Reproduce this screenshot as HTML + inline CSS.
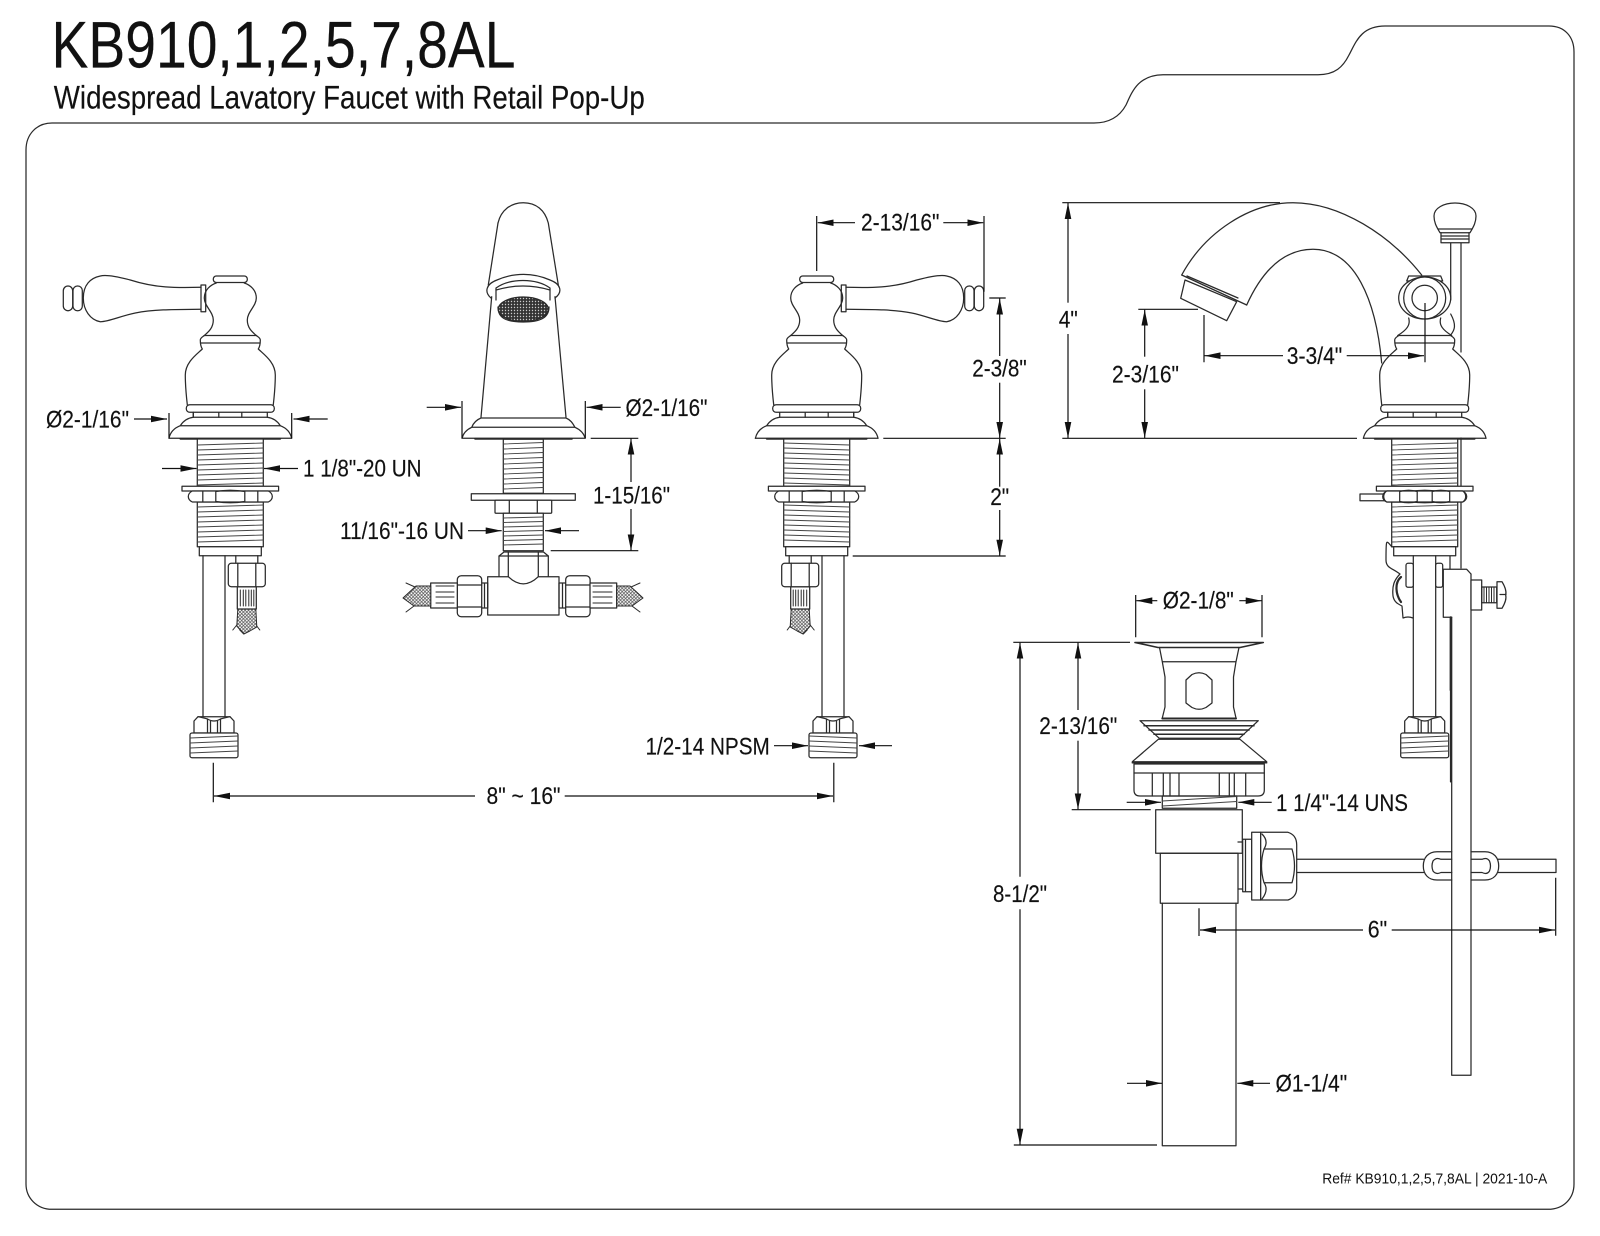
<!DOCTYPE html>
<html><head><meta charset="utf-8"><title>KB910,1,2,5,7,8AL</title>
<style>
html,body{margin:0;padding:0;background:#fff}
svg{display:block}
text{font-family:"Liberation Sans",sans-serif;fill:#111;font-size:24px;stroke:#111;stroke-width:.15}
.s{fill:none;stroke:#2a2a2a;stroke-width:1.25;stroke-linejoin:round;stroke-linecap:round}
.w{fill:#fff}
.d{fill:none;stroke:#111;stroke-width:1.2}
.t{stroke-width:.9;stroke:#444}
</style></head><body>
<svg xmlns="http://www.w3.org/2000/svg" width="1600" height="1236" viewBox="0 0 1600 1236">
<defs>
<marker id="a" markerUnits="userSpaceOnUse" markerWidth="17" markerHeight="8" refX="16" refY="3.300" orient="auto"><path d="M0 0L16 3.300L0 6.600Z" fill="#111"/></marker>
<pattern id="b" width="3.4" height="3.4" patternUnits="userSpaceOnUse"><rect width="3.4" height="3.4" fill="#fff"/><path d="M0 0L3.4 3.4M3.4 0L0 3.4" stroke="#555" stroke-width=".75"/></pattern>
<pattern id="m" width="3" height="3" patternUnits="userSpaceOnUse"><rect width="3" height="3" fill="#333"/><circle cx="1.5" cy="1.5" r=".7" fill="#ccc"/></pattern>
<g id="h">
<path d="M26 335.5C28 337 30 338 30 340C30 343 30 346 28 349C33 354 45 362 45 375C45 387 44 396 43 404.7"/>
<path d="M37 412.3V417.3M11.5 412.3V417.3M37 417.3C42 418 47 421 50 425.7C56 428 60 432 61.3 438.3"/>
</g>
<g id="vb" class="s">
<path class="w" stroke="none" d="M-26 335H26L45 375V404H-45V375Z"/>
<use href="#h"/><use href="#h" transform="scale(-1,1)"/>
<path d="M-26 335.5H26M-29.5 343H29.5"/>
<rect class="w" x="-44" y="404.7" width="88" height="7.6" rx="3.5"/>
<path d="M-37 412.3V417.3M-37 417.3H37M-50 425.7H50M-61.3 438.3H61.3"/>
<path d="M-50 438.8H50" stroke-width="1.8"/>
<rect class="w" x="-33" y="439" width="66" height="47.3"/>
<path class="t" d="M-33 445l66-2M-33 450l66-2M-33 455l66-2M-33 460l66-2M-33 465l66-2M-33 470l66-2M-33 475l66-2M-33 480l66-2M-33 485l66-2"/>
<rect class="w" x="-48.3" y="486.3" width="96.6" height="4.7"/>
<rect class="w" x="-33" y="502" width="66" height="44.7"/>
<path class="t" d="M-33 507l66-2M-33 512l66-2M-33 517l66-2M-33 522l66-2M-33 527l66-2M-33 532l66-2M-33 537l66-2M-33 542l66-2"/>
<path class="w" d="M-38 491H38Q42 493 42 496.500Q42 500 38 502H-38Q-42 500 -42 496.500Q-42 493 -38 491Z"/>
<path d="M-27.500 491.500V501.500M-14.500 491.500V501.500M14.500 491.500V501.500M27.500 491.500V501.500M-14.500 491.500Q0 489 14.500 491.500M-14.500 501.500Q0 504 14.500 501.500"/>
<rect class="w" x="-31" y="546.700" width="62" height="9"/>
</g>
<g id="ft" class="s">
<path class="w" d="M-20 733V721L-16 716.700H16L20 721V733Z"/>
<path d="M-6.500 719V732.500M-3.500 721V732.500M3.500 721V732.500M6.500 719V732.500M-16 716.700Q-10 718 -6.500 719Q-3 721 0 721Q3 721 6.500 719Q10 718 16 716.700"/>
<rect class="w" x="-24" y="733" width="48" height="24.700" rx="2"/>
<path class="t" d="M-24 738l48-2M-24 743l48-2M-24 748l48-2M-24 753l48-2"/>
</g>
<g id="v">
<use href="#vb"/>
<g class="s">
<path d="M-14 283C-20 285-26 290-26 298C-26 306-17 312-17 320C-17 328-22 332-26 335.500"/>
<path d="M14 283C20 285 26 290 26 298C26 306 17 312 17 320C17 328 22 332 26 335.500"/>
<rect class="w" x="-17" y="276" width="34" height="6.500" rx="3"/>
<path d="M-29.300 287.300C-55 288-75 288-100 280C-115 276-125 274.500-130 276C-140 278-147 285-147 298C-147 310-140 320-130 321.700C-122 322-110 316-95 313C-75 309-50 309.500-29.300 309.300"/>
<rect x="-29.300" y="285" width="4.700" height="26.700"/>
<rect x="-167" y="286" width="9.400" height="24.700" rx="4.700"/>
<rect x="-157.300" y="286" width="9.300" height="24.700" rx="4.500"/>
<path d="M-27.300 555.700V716.700M-5.300 555.700V716.700"/>
<use href="#ft" x="-16.300"/>
<g transform="translate(16.500,0)">
<path d="M-11 555.700V563.300M11 555.700V563.300"/>
<path fill="url(#b)" stroke-width="1" d="M-9 609H9L10 627L3 631L-3 634L-10 626Z"/>
<path d="M-14 630L-10 625M-3 634L-7 630M13 630L10 626" stroke-width="1"/>
<rect class="w" x="-9.500" y="586.700" width="19" height="22.300"/>
<path d="M-6.500 590V606M-3.500 590V606M-1 590V606M2 590V606M4.500 590V606M7 590V606" stroke-width="1"/>
<rect class="w" x="-18.500" y="563.300" width="37" height="23.400" rx="3"/>
<path d="M-9 563.300V586.700M9 563.300V586.700"/>
</g>
</g>
</g>
</defs>
<rect width="1600" height="1236" fill="#fff"/>

<path class="s" stroke-width="1.3" d="M26 150C26 134 37 123 52 123H1094C1110 123 1120 116 1126 105C1132 92 1138 75 1163 74.700H1318C1335 74.700 1343 67 1349 55C1356 42 1361 26 1385 26H1549C1565 26 1574 37 1574 52V1184C1574 1199 1563 1209.300 1548 1209.300H52C37 1209.300 26 1198 26 1184Z"/>

<text x="51.500" y="67.700" style="font-size:66px" textLength="464" lengthAdjust="spacingAndGlyphs">KB910,1,2,5,7,8AL</text>
<text x="53.800" y="108.300" style="font-size:32px" textLength="591" lengthAdjust="spacingAndGlyphs">Widespread Lavatory Faucet with Retail Pop-Up</text>

<use href="#v" transform="translate(230.300,0)"/>
<use href="#v" transform="translate(816.700,0) scale(-1,1)"/>

<!-- centre faucet -->
<g class="s">
<path d="M498 223C501 210 511 202.700 523.300 202.700C536 202.700 545 210 548.300 223L558.300 285"/>
<path d="M498 223L488.300 285"/>
<path d="M491.700 296.700L481 417.300M555 296.700L566 417.300"/>
<path d="M491 298C484 292 486 284 497 280C514 272.500 533 272.500 550 280C561 284 563 292 555 298"/>
<path d="M496 300V288C510 278 536 278 550 288V300"/>
<path d="M496 290Q523 282 550 290"/>
<path d="M498 307C498 318 506 322 523.300 322C540 322 549 318 549 307"/>
<ellipse cx="523.300" cy="309.300" rx="25" ry="12.300" fill="url(#m)"/>
<path d="M481 418H566M481 418C476 420 473 424 471.700 427.300H575C573 424 571 420 566 418M471.700 427.300C466 430 463 434 462 438.300H585.300C584 434 581 430 575 427.300"/>
<path d="M475 438.800H572" stroke-width="1.800"/>
<rect class="w" x="503.300" y="439.300" width="40" height="54"/>
<path class="t" d="M503.300 444l40-1.500M503.300 449l40-1.500M503.300 454l40-1.500M503.300 459l40-1.500M503.300 464l40-1.500M503.300 469l40-1.500M503.300 474l40-1.500M503.300 479l40-1.500M503.300 484l40-1.500M503.300 489l40-1.500"/>
<rect class="w" x="471.300" y="493.700" width="104" height="6.600"/>
<rect class="w" x="495" y="500.300" width="56.700" height="13" rx="1"/>
<path d="M509.300 500.300V513.300M537.300 500.300V513.300"/>
<rect class="w" x="503.300" y="513.300" width="40" height="37.400"/>
<path class="t" d="M503.300 518l40-1M503.300 522.500l40-1M503.300 527l40-1M503.300 531.500l40-1M503.300 536l40-1M503.300 540.500l40-1M503.300 545l40-1"/>
<path class="w" d="M499 576.700V556L504 552H543.500L548.300 556V576.700"/>
<path d="M508.300 552V576.700M538.300 552V576.700M499 556H548.300"/>
<path class="w" d="M487.700 576.700H508.300Q523.300 591 538.300 576.700H559V615H487.700Z"/>
<path d="M481.700 583H487.700V608H481.700M565.700 583H559V608H565.700M484.500 583V608M562.500 583V608"/>
<rect class="w" x="457.300" y="575.700" width="24.400" height="41" rx="4"/>
<path d="M457.300 585H481.700M457.300 607H481.700"/>
<rect class="w" x="565.700" y="575.700" width="24.400" height="41" rx="4"/>
<path d="M565.700 585H590M565.700 607H590"/>
<rect class="w" x="430.700" y="583" width="26.600" height="25"/>
<path d="M436 586H454M436 592H454M436 597H454M436 603H454" stroke-width="1.100"/>
<rect class="w" x="590" y="583" width="26.700" height="25"/>
<path d="M593 586H612M593 592H612M593 597H612M593 603H612" stroke-width="1.100"/>
<path fill="url(#b)" stroke-width="1" d="M430.700 586V606H414L403 598L416 586Z"/>
<path stroke-width="1" d="M406 583L415 587M406 612L414 606"/>
<path fill="url(#b)" stroke-width="1" d="M616.700 586V606H632L643 598L630 586Z"/>
<path stroke-width="1" d="M640 583L631 587M640 612L632 606"/>
</g>

<!-- right side valve with spout -->
<g class="s">
<path d="M1181.700 275C1205 232 1250 202.700 1293 202.700C1340 202.700 1390 235 1421.700 275"/>
<path d="M1246.700 305C1258 280 1278 249.300 1313 249.300C1355 249.300 1376 300 1381.700 363"/>
<path d="M1181.700 275L1246.700 305"/>
<path class="w" d="M1185 280L1236.700 301.700L1226.700 320.700L1180.700 298.300Z"/>
<path d="M1187 276L1238 298"/>
<path d="M1450.700 241.700V300M1461 241.700V352"/>
<path class="w" d="M1440 232.700C1436 226 1434 222 1434 216C1434 208 1444 203 1455 203C1466 203 1476 208 1476 216C1476 222 1474 226 1470 232.700Z"/>
<path d="M1438 229H1472M1441 232.700V236M1469 232.700V236"/>
<rect class="w" x="1441" y="236" width="28" height="6.700"/>
<path d="M1441 239H1469"/>
<path d="M1461 438V486M1461 502V568M1450 556V569"/>
</g>
<g transform="translate(1424.700,0)">
<rect class="s w" x="-64.700" y="494" width="25" height="6.700"/>
<use href="#vb"/>
<g class="s">
<path class="w" d="M-38 491H38Q41 493 41 496.500Q41 500 38 502H-38Q-41 500 -41 496.500Q-41 493 -38 491Z"/>
<path d="M-7.500 491.500V501.500M7.500 491.500V501.500M-25 491.500V501.500M25 491.500V501.500M-25 491.500Q-16 489 -7.500 491.500M-25 501.500Q-16 504 -7.500 501.500M25 491.500Q16 489 7.500 491.500M25 501.500Q16 504 7.500 501.500"/>
<path d="M-16 318C-14 325-18 330-27 335.500M16 318C14 325 18 330 27 335.500"/>
<path d="M26 314C32 325 30 330 26 335"/>
<path class="w" d="M-16 276H16L18 281H-18Z"/>
<ellipse class="w" cx="0" cy="298" rx="26" ry="21"/>
<circle class="w" cx="0" cy="298" r="21"/>
<circle cx="0" cy="298" r="12.700"/>
</g>
</g>
<g class="s">
<!-- lower linkage -->
<path d="M1392 547C1386 540 1386 538 1386 560C1386 568 1392 568 1400 574C1394 580 1392 586 1393 596C1394 602 1398 604 1402 606L1403 618Q1408 616 1413 618"/>
<path d="M1401 577C1394 583 1396 595 1401 602" stroke-width="2.200"/>
<path d="M1413.300 555.700V716.700M1435.700 555.700V716.700"/>
<rect class="w" x="1406" y="563.300" width="7.300" height="24" rx="2"/>
<rect class="w" x="1435.700" y="563.300" width="7" height="24" rx="2"/>
<path d="M1443.300 569.300V617.300H1451.700M1443.300 569.300H1466.700L1471 574"/>
<path d="M1450.700 617.300V690" stroke-width="2.200"/>
<path d="M1450.700 690V781.700" stroke-width="1.600"/>
<path d="M1451.700 617.300V1075.300H1471V574"/>
<rect class="w" x="1471" y="580" width="10.700" height="30"/>
<rect x="1481.700" y="587" width="15" height="15.700"/>
<path d="M1484 587V602.700M1486.500 587V602.700M1489 587V602.700M1491.500 587V602.700M1494 587V602.700" stroke-width="1"/>
<path class="w" d="M1497 581.700H1502Q1507 590 1505.700 595Q1507 600 1502 608.300H1497Z"/>
<path d="M1500 594.500H1506"/>
</g>
<use href="#ft" transform="translate(1424.700,0)"/>

<!-- lever rod and pop-up -->
<g class="s">
<path d="M1296.700 859.300H1423.500M1296.700 872.500H1423.500M1498 859.300H1556V872.500H1498"/>
<path d="M1451.700 851.700H1437C1428 851.700 1423.300 858 1423.300 866C1423.300 874 1428 880 1437 880H1451.700"/>
<path d="M1471 851.700H1485C1494 851.700 1498.700 858 1498.700 866C1498.700 874 1494 880 1485 880H1471"/>
<path d="M1451.700 859.300H1441Q1436 857 1433 861Q1431 866 1433 871Q1436 875 1441 872.500H1451.700"/>
<path d="M1471 859.300H1482Q1487 857 1489.500 861Q1491.500 866 1489.500 871Q1487 875 1482 872.500H1471"/>

<path d="M1135 642.500H1263.300L1240 647.500H1158Z" stroke-width="1.600"/>
<path d="M1159.500 647.500L1162.300 661.700L1165 677V707L1162.300 718M1239 647.500L1236 661.700L1233.500 677V707L1236 718M1162.300 661.700H1236"/>
<path d="M1186 680L1192 674.500Q1199 671 1206 674.500L1212 680V703L1206 707.500Q1199 711 1192 707.500L1186 703Z"/>
<path d="M1162.300 718.500H1236" stroke-width="2"/>
<path d="M1140 720.700H1258.300L1239.300 738.300H1159.300Z"/>
<path d="M1144 725.700H1254M1149 730H1249M1154 734.300H1244" stroke-width="1.500"/>
<path d="M1158.300 739.300H1240L1266.700 761.700H1132.300Z"/>
<path d="M1132.300 762.700H1266.700" stroke-width="1.500"/>
<path d="M1134 764H1264.300V790Q1264.300 796 1258 796H1140Q1134 796 1134 790Z"/>
<path d="M1134 773H1264.300M1152.300 773V796M1245.700 773V796M1163.300 773V796M1170 773V796M1179 773V796M1219.300 773V796M1229.300 773V796M1234.300 773V796"/>
<rect x="1162.300" y="796" width="74.400" height="12.300"/>
<path class="t" d="M1162.300 801L1236.700 796.500M1162.300 806L1236.700 801.500"/>
<rect x="1155.700" y="809.700" width="86.600" height="43.600"/>
<rect x="1160.300" y="853.300" width="77.700" height="50"/>
<path d="M1162.300 903.300V1145.700H1236V903.300"/>
<path d="M1242.700 839.300H1251.700V891.700H1242.700ZM1245.500 839.300V891.700M1238 842H1242.700M1238 889H1242.700"/>
<rect class="w" x="1251.700" y="832.300" width="9" height="67.700"/>
<path class="w" d="M1260.700 832.300H1288Q1296.700 835 1296.700 845V888Q1296.700 897 1288 900H1260.700Z"/>
<path d="M1264 849H1292M1264 882.700H1292M1262 834Q1269 841 1264 849Q1259 866 1264 882.700Q1269 890 1262 899M1292 849Q1297 866 1292 882.700"/>
</g>

<!-- dimensions -->
<g class="d">
<path d="M134 419H167" marker-end="url(#a)"/><path d="M169 413V438M291.700 413V438"/><path d="M327.700 419H293.500" marker-end="url(#a)"/>
<path d="M162 468.500H196.500" marker-end="url(#a)"/><path d="M298 468.500H264" marker-end="url(#a)"/>
<path d="M468 530.700H501.700" marker-end="url(#a)"/><path d="M579 530.700H545" marker-end="url(#a)"/>
<path d="M426.700 407.300H461" marker-end="url(#a)"/><path d="M462 401V438M585.300 401V438"/><path d="M620.700 407.300H586.500" marker-end="url(#a)"/>
<path d="M590.700 438.300H638.300M550.700 550.700H638.300"/>
<path d="M631 482H631V438.500" marker-end="url(#a)"/><path d="M631 509V550.500" marker-end="url(#a)"/>
<path d="M816.700 216V271M984 216V291.700"/><path d="M855 222.700H817.700" marker-end="url(#a)"/><path d="M943.300 222.700H983.300" marker-end="url(#a)"/>
<path d="M989.300 298H1005.700M883.300 438.300H1005.700M852.700 556H1005.700"/>
<path d="M999.700 356V298.500" marker-end="url(#a)"/><path d="M999.700 382.700V438" marker-end="url(#a)"/>
<path d="M999.700 486.700V438.700" marker-end="url(#a)"/><path d="M999.700 510V555.700" marker-end="url(#a)"/>
<path d="M1062.300 202.700H1280M1062.300 438.300H1357"/>
<path d="M1068 302.700V203" marker-end="url(#a)"/><path d="M1068 334V438" marker-end="url(#a)"/>
<path d="M1138.300 309.300H1198"/>
<path d="M1144.700 356.700V309.700" marker-end="url(#a)"/><path d="M1144.700 389.300V438" marker-end="url(#a)"/>
<path d="M1204 315V362.300M1425 303V362.300"/>
<path d="M1283 355.700H1204.500" marker-end="url(#a)"/><path d="M1346.700 355.700H1424" marker-end="url(#a)"/>
<path d="M1135.700 595V637.300M1262 595V637.300"/>
<path d="M1157.300 600.700H1136.300" marker-end="url(#a)"/><path d="M1239.300 600.700H1261.700" marker-end="url(#a)"/>
<path d="M1013.300 642.300H1130M1071.700 809.700H1150.700M1013.800 1145H1157"/>
<path d="M1078 710V642.700" marker-end="url(#a)"/><path d="M1078 740.700V809.300" marker-end="url(#a)"/>
<path d="M1020 876.700V642.700" marker-end="url(#a)"/><path d="M1020 909.300V1144.700" marker-end="url(#a)"/>
<path d="M1126.700 802.300H1161" marker-end="url(#a)"/><path d="M1271.700 802.300H1238.300" marker-end="url(#a)"/>
<path d="M1199 908.300V936M1555.700 877.700V935.700"/>
<path d="M1363 930H1200" marker-end="url(#a)"/><path d="M1391.700 930H1555" marker-end="url(#a)"/>
<path d="M1127 1083.300H1162" marker-end="url(#a)"/><path d="M1270 1083.300H1237.300" marker-end="url(#a)"/>
<path d="M774 745.700H808" marker-end="url(#a)"/><path d="M892 745.700H859" marker-end="url(#a)"/>
<path d="M213.300 762.700V802.300M833.800 762.700V802.300"/>
<path d="M475 796H214" marker-end="url(#a)"/><path d="M564.700 796H833" marker-end="url(#a)"/>
</g>

<text x="46" y="427.300" textLength="83" lengthAdjust="spacingAndGlyphs">Ø2-1/16"</text>
<text x="303" y="476.700" textLength="118.500" lengthAdjust="spacingAndGlyphs">1 1/8"-20 UN</text>
<text x="340" y="539" textLength="124" lengthAdjust="spacingAndGlyphs">11/16"-16 UN</text>
<text x="625.500" y="416" textLength="82" lengthAdjust="spacingAndGlyphs">Ø2-1/16"</text>
<text x="593" y="503.300" textLength="77" lengthAdjust="spacingAndGlyphs">1-15/16"</text>
<text x="861" y="230.700" textLength="78.500" lengthAdjust="spacingAndGlyphs">2-13/16"</text>
<text x="972.200" y="376.700" textLength="54.500" lengthAdjust="spacingAndGlyphs">2-3/8"</text>
<text x="990.200" y="505" textLength="19" lengthAdjust="spacingAndGlyphs">2"</text>
<text x="1058.800" y="327.300" textLength="19" lengthAdjust="spacingAndGlyphs">4"</text>
<text x="1112" y="382.700" textLength="67" lengthAdjust="spacingAndGlyphs">2-3/16"</text>
<text x="1286.800" y="364" textLength="55.500" lengthAdjust="spacingAndGlyphs">3-3/4"</text>
<text x="1162.800" y="608.300" textLength="71" lengthAdjust="spacingAndGlyphs">Ø2-1/8"</text>
<text x="1039.300" y="734" textLength="78" lengthAdjust="spacingAndGlyphs">2-13/16"</text>
<text x="1276" y="811" textLength="132" lengthAdjust="spacingAndGlyphs">1 1/4"-14 UNS</text>
<text x="993" y="902" textLength="54" lengthAdjust="spacingAndGlyphs">8-1/2"</text>
<text x="1367.800" y="937.700" textLength="19.400" lengthAdjust="spacingAndGlyphs">6"</text>
<text x="1275.500" y="1091.700" textLength="71.700" lengthAdjust="spacingAndGlyphs">Ø1-1/4"</text>
<text x="645.500" y="754.300" textLength="124.300" lengthAdjust="spacingAndGlyphs">1/2-14 NPSM</text>
<text x="486.500" y="804" textLength="74" lengthAdjust="spacingAndGlyphs">8" ~ 16"</text>
<text x="1322.200" y="1183.300" style="font-size:15px;stroke-width:0" textLength="225" lengthAdjust="spacingAndGlyphs">Ref# KB910,1,2,5,7,8AL | 2021-10-A</text>
</svg>
</body></html>
